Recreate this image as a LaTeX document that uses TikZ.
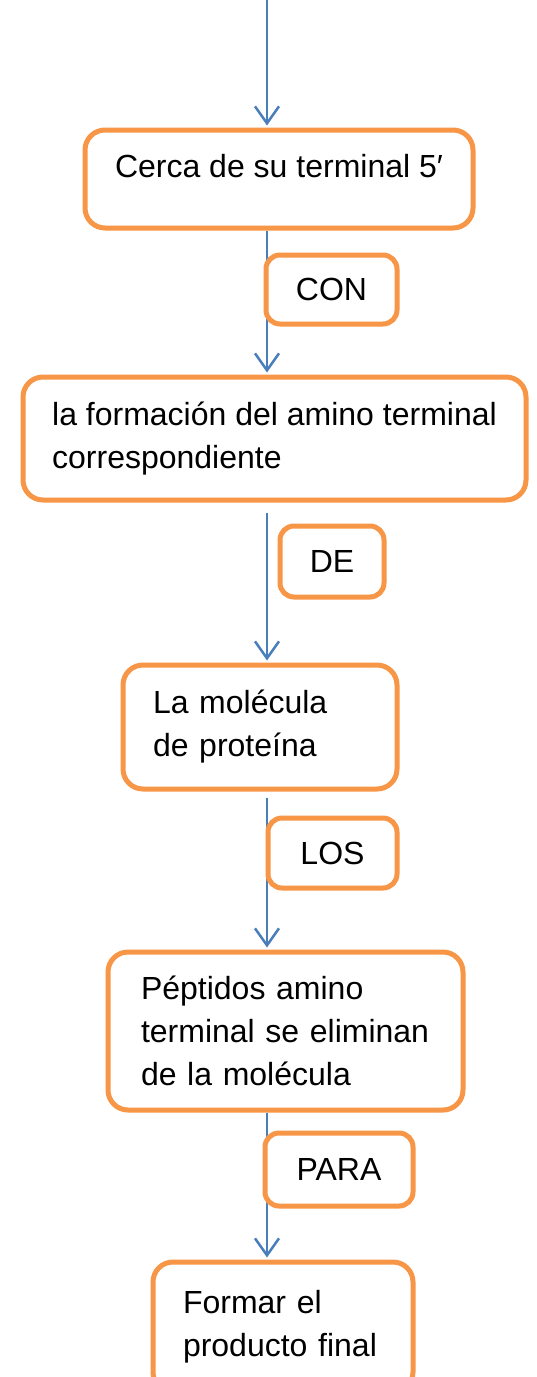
\documentclass[tikz,border=0pt]{standalone}
\usepackage{fontspec}
\setmainfont{Liberation Sans}
\usetikzlibrary{arrows.meta,calc}
\definecolor{boxorange}{HTML}{F79646}
\definecolor{arrowblue}{HTML}{4A7EBB}
\pgfdeclarelayer{back}
\pgfdeclarelayer{bg}
\pgfsetlayers{back,bg,main}
\begin{document}
\begin{tikzpicture}[x=1pt,y=-1pt,
  txt/.style={font=\fontsize{32}{43}\selectfont},
  bigbox/.style={txt,draw=boxorange,line width=5pt,rounded corners=20pt,fill=white,inner ysep=0pt,align=left},
  smallbox/.style={txt,draw=boxorange,line width=5pt,rounded corners=14pt,fill=white,inner sep=0pt,align=center},
  flow/.style={draw=arrowblue,line width=2.5pt,shorten >=2pt,-{Straight Barb[length=17pt,width=24pt]}}]
\useasboundingbox (0,0) rectangle (537,1377);
\begin{pgfonlayer}{back}
\fill[white] (0,0) rectangle (537,1377);
\end{pgfonlayer}
\coordinate (top) at (267,0);
\node[bigbox,minimum width=388pt,minimum height=98pt,text depth=26pt,align=center] (b1) at (279,179) {Cerca de su terminal 5′};
\node[bigbox,minimum width=503pt,minimum height=123pt] (b2) at (274.5,438.5) {la formación del amino terminal\\correspondiente};
\node[bigbox,minimum width=274pt,minimum height=124pt,inner xsep=30pt,text width=214pt] (b3) at (260,727) {La molécula\\de proteína};
\node[bigbox,minimum width=355pt,minimum height=158pt,inner xsep=33pt,text width=289pt] (b4) at (285.5,1031) {Péptidos amino\\terminal se eliminan\\de la molécula};
\node[bigbox,minimum width=260pt,minimum height=130pt,inner xsep=30pt,text width=200pt] (b5) at (283,1327) {Formar el\\producto final};
\node[smallbox,minimum width=131pt,minimum height=69pt] (con) at (331.5,289.5) {CON};
\node[smallbox,minimum width=104pt,minimum height=71pt] (de) at (332,561.5) {DE};
\node[smallbox,minimum width=129pt,minimum height=70pt] (los) at (332.5,853) {LOS};
\node[smallbox,minimum width=148pt,minimum height=73pt] (para) at (339,1169.5) {PARA};
\begin{pgfonlayer}{bg}
\draw[flow] (top) -- (b1.north -| top);
\draw[flow] (b1.south -| top) -- (b2.north -| top);
\draw[flow] ($(b2.south -| top)+(0,10)$) -- (b3.north -| top);
\draw[flow] ($(b3.south -| top)+(0,6)$) -- (b4.north -| top);
\draw[flow] (b4.south -| top) -- (b5.north -| top);
\end{pgfonlayer}
\end{tikzpicture}
\end{document}
